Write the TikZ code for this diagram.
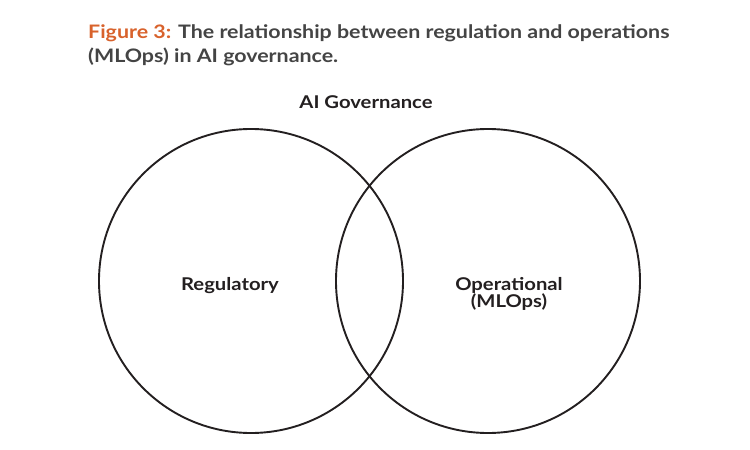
\documentclass[tikz,border=0pt]{standalone}
\usepackage{fontspec}
\setmainfont{Lato}[FakeStretch=1.15]
\usepackage{tikz}
\definecolor{figorange}{HTML}{D8622C}
\definecolor{capgray}{HTML}{444444}
\definecolor{inkdark}{HTML}{231F20}

\begin{document}
\begin{tikzpicture}[x=1pt, y=1pt, ring/.style={draw=inkdark, circle, minimum size=304pt, inner sep=0pt, line width=1.9pt}, caption/.style={anchor=base west, inner sep=0pt, text=capgray, font=\fontsize{18.6}{22}\selectfont\bfseries}, lbl/.style={text=inkdark, align=center, inner sep=0pt, font=\fontsize{17.6}{17}\selectfont\bfseries}]
                \useasboundingbox (0,0) rectangle (750,-450);
                % caption
                \node[caption] (cap1) at (88,-38) {\textcolor{figorange}{Figure 3:} The relationship between regulation and operations};
                \node[caption] (cap2) at (88,-62) {(MLOps) in AI governance.};
                % nodes
                \node[lbl, anchor=base] (gov) at (366,-108) {AI Governance};
                \node[ring] (reg) at (251,-281) {};
                \node[ring] (ops) at (488,-281) {};
                \node[lbl, anchor=base] (regtxt) at (230,-290) {Regulatory};
                \node[lbl, anchor=base] (opstxt) at (509,-307) {Operational\\(MLOps)};
            \end{tikzpicture}
\end{document}
